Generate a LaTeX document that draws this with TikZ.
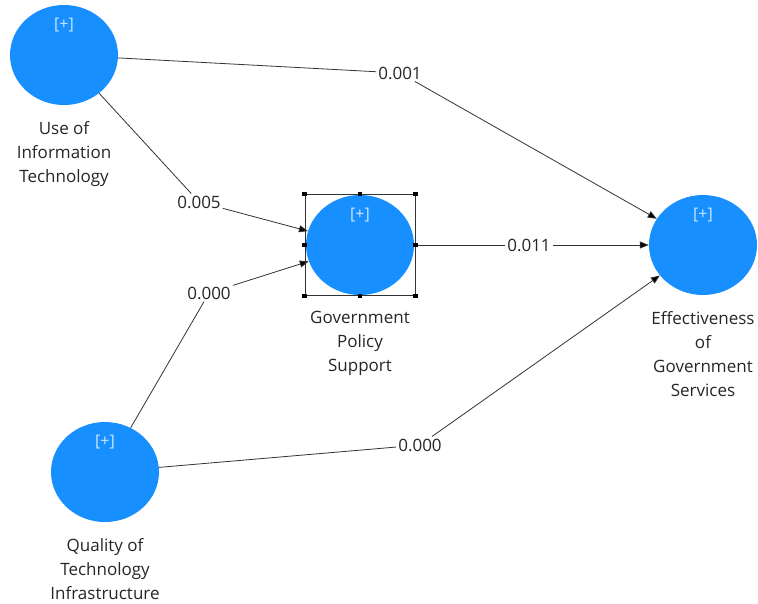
\documentclass[tikz,border=0pt]{standalone}
\usepackage{fontspec}
\setmainfont{Open Sans}
\usetikzlibrary{shapes.geometric,positioning,arrows.meta}
\definecolor{lvblue}{RGB}{24,143,255}
\definecolor{plusgrey}{RGB}{205,230,255}

\begin{document}
\begin{tikzpicture}[x=1pt, y=-1pt,
  construct/.style={ellipse, fill=lvblue, minimum width=108pt, minimum height=100pt, inner sep=0pt},
  name text/.style={align=center, inner sep=0pt, text=black!85, font=\fontsize{17}{24}\selectfont},
  plus mark/.style={inner sep=0pt, text=plusgrey, font=\fontsize{16}{16}\selectfont},
  coef/.style={inner sep=2pt, text=black!85, font=\fontsize{17}{20}\selectfont},
  link/.style={draw=black!80, line width=0.8pt},
  tip/.style={-{Triangle[length=9pt,width=7pt]}},
  selbox/.style={rectangle, draw=black!80, line width=0.8pt, minimum width=110pt, minimum height=101pt}]
  \useasboundingbox (0,0) rectangle (758,603);

  % constructs
  \node[construct] (iut) at (64,55) {};
  \node[construct] (gps) at (360,245) {};
  \node[construct] (egs) at (703,245) {};
  \node[construct] (qti) at (105,472) {};

  \node[plus mark] (iut-p) at ([yshift=30pt]iut.center) {[+]};
  \node[plus mark] (gps-p) at ([yshift=30pt]gps.center) {[+]};
  \node[plus mark] (egs-p) at ([yshift=30pt]egs.center) {[+]};
  \node[plus mark] (qti-p) at ([yshift=30pt]qti.center) {[+]};

  \node[name text, below=16pt of iut] (iut-t) {Use of\\Information\\Technology};
  \node[name text, below=16pt of gps] (gps-t) {Government\\Policy\\Support};
  \node[name text, below=16pt of egs] (egs-t) {Effectiveness\\of\\Government\\Services};
  \node[name text, below=16pt of qti] (qti-t) {Quality of\\Technology\\Infrastructure};

  % path coefficients
  \node[coef] (c-ie) at (400,73) {0.001};
  \node[coef] (c-ig) at (199,202) {0.005};
  \node[coef] (c-qg) at (209,293) {0.000};
  \node[coef] (c-ge) at (529,245) {0.011};
  \node[coef] (c-qe) at (420,445) {0.000};

  \path[link]
  (iut) edge (c-ie)
  (c-ie) edge[tip] (egs)
  (iut) edge (c-ig)
  (c-ig) edge[tip] (gps)
  (qti) edge (c-qg)
  (c-qg) edge[tip] (gps)
  (gps) edge (c-ge)
  (c-ge) edge[tip] (egs)
  (qti) edge (c-qe)
  (c-qe) edge[tip] (egs)
  ;

  % selection frame
  \node[selbox] (gps-box) at (gps) {};
  \foreach \a in {north west,north,north east,east,south east,south,south west,west}
    \fill[black] ([xshift=-2.2pt,yshift=-2.2pt]gps-box.\a) rectangle ++(4.4pt,4.4pt);
\end{tikzpicture}
\end{document}
